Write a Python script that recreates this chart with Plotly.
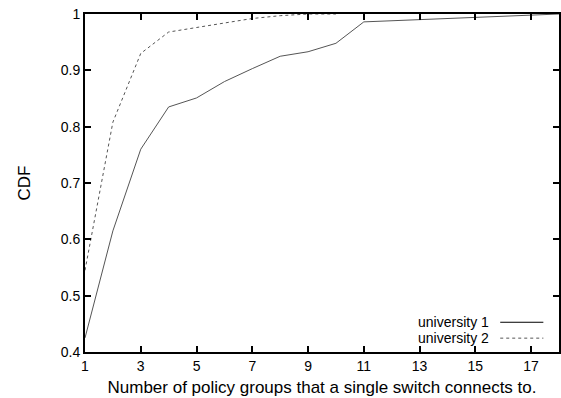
import plotly.graph_objects as go

x1 = [1, 2, 3, 4, 5, 6, 7, 8, 9, 10, 11, 12, 13, 14, 15, 16, 17, 18]
u1 = [0.425, 0.615, 0.76, 0.835, 0.851, 0.880, 0.903, 0.925, 0.933, 0.948, 0.986, 0.988, 0.991, 0.993, 0.994, 0.996, 0.998, 1.0]
x2 = [1, 2, 3, 4, 5, 6, 7, 8, 9, 10]
u2 = [0.545, 0.808, 0.930, 0.968, 0.976, 0.984, 0.992, 0.997, 1.0, 1.0]
xticks = [1, 3, 5, 7, 9, 11, 13, 15, 17]
yticks = [0.4, 0.5, 0.6, 0.7, 0.8, 0.9, 1]
ytick_text = ["0.4", "0.5", "0.6", "0.7", "0.8", "0.9", "1"]
names = ["university 1", "university 2"]

FONT = "Liberation Sans, Arial, Helvetica, sans-serif"
fig = go.Figure()
fig.add_trace(go.Scatter(x=x1, y=u1, mode="lines", name=names[0],
                         line=dict(color="#555555", width=1), showlegend=False))
fig.add_trace(go.Scatter(x=x2, y=u2, mode="lines", name=names[1],
                         line=dict(color="#555555", width=1, dash="3px,3px"), showlegend=False))

# gnuplot-style legend: text right-aligned, line sample to the right
for i, (nm, dash) in enumerate(zip(names, ["solid", "3px,3px"])):
    yy = 0.088 - i * 0.047
    fig.add_annotation(x=0.855, y=yy, xref="paper", yref="paper", text=nm,
                       showarrow=False, xanchor="right", yanchor="middle", borderpad=0,
                       font=dict(family=FONT, size=14, color="black"))
    fig.add_shape(type="line", xref="paper", yref="paper", x0=0.876, x1=0.967,
                  y0=yy, y1=yy, line=dict(color="black" if i == 0 else "#555555", width=1, dash=dash))

fig.update_layout(
    width=561, height=398,
    margin=dict(l=85, r=2, t=14, b=46),
    paper_bgcolor="white", plot_bgcolor="white",
    font=dict(family=FONT, size=14, color="black"),
    xaxis=dict(range=[1, 18], tickvals=xticks, ticks="inside", ticklen=6, tickwidth=2,
               tickcolor="black", showgrid=False, zeroline=False, showline=True,
               linecolor="black", linewidth=2, mirror="ticks", automargin=False,
               title=dict(text="Number of policy groups that a single switch connects to.", standoff=8)),
    yaxis=dict(range=[0.4, 1], tickvals=yticks, ticktext=ytick_text, ticks="inside", ticklen=6,
               tickwidth=2, tickcolor="black", showgrid=False, zeroline=False, showline=True,
               linecolor="black", linewidth=2, mirror="ticks", automargin=False,
               title=dict(text="CDF", standoff=26)),
)
fig.write_html("out.html", config={"displayModeBar": False},
               post_script="document.body.style.margin='0';")
